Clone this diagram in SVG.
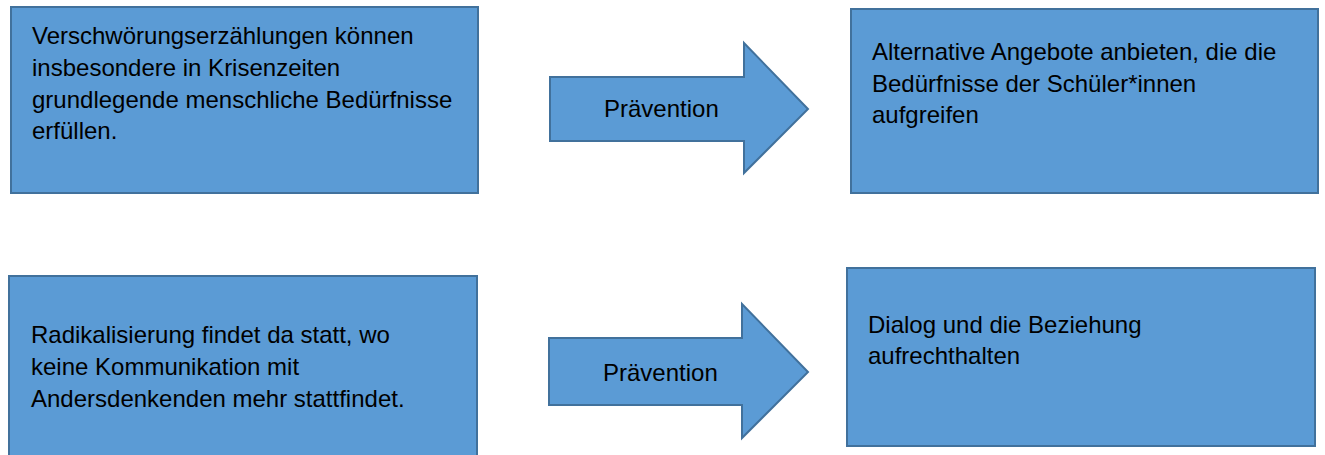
<svg xmlns="http://www.w3.org/2000/svg" width="1325" height="455" viewBox="0 0 1325 455">
<style>
.box{fill:#5B9BD5;stroke:#41719C;stroke-width:2}
.t{font-family:"Liberation Sans",Arial,sans-serif;font-size:24px;fill:#000}
</style>
<rect width="1325" height="455" fill="#fff"/>
<g id="n1">
<rect class="box" x="11" y="7" width="467" height="186"/>
<text class="t"><tspan x="32" y="44">Verschwörungserzählungen können</tspan><tspan x="32" y="76">insbesondere in Krisenzeiten</tspan><tspan x="32" y="108">grundlegende menschliche Bedürfnisse</tspan><tspan x="32" y="139">erfüllen.</tspan></text>
</g>
<g id="n2">
<rect class="box" x="851" y="9" width="467" height="184"/>
<text class="t"><tspan x="872" y="60">Alternative Angebote anbieten, die die</tspan><tspan x="872" y="92">Bedürfnisse der Schüler*innen</tspan><tspan x="872" y="123">aufgreifen</tspan></text>
</g>
<g id="n3">
<rect class="box" x="9" y="276" width="468" height="190"/>
<text class="t"><tspan x="31" y="343">Radikalisierung findet da statt, wo</tspan><tspan x="31" y="375">keine Kommunikation mit</tspan><tspan x="31" y="407">Andersdenkenden mehr stattfindet.</tspan></text>
</g>
<g id="n4">
<rect class="box" x="847" y="268" width="468" height="178"/>
<text class="t"><tspan x="868" y="333">Dialog und die Beziehung</tspan><tspan x="868" y="364">aufrechthalten</tspan></text>
</g>
<g id="connectors">
<g id="a1">
<polygon class="box" points="550,77 744,77 744,43 808,109 744,173 744,141 550,141"/>
<text class="t" x="604" y="117">Prävention</text>
</g>
<g id="a2">
<polygon class="box" points="549,338 742,338 742,304 808,372 742,438 742,405 549,405"/>
<text class="t" x="603" y="381">Prävention</text>
</g>
</g>
</svg>
